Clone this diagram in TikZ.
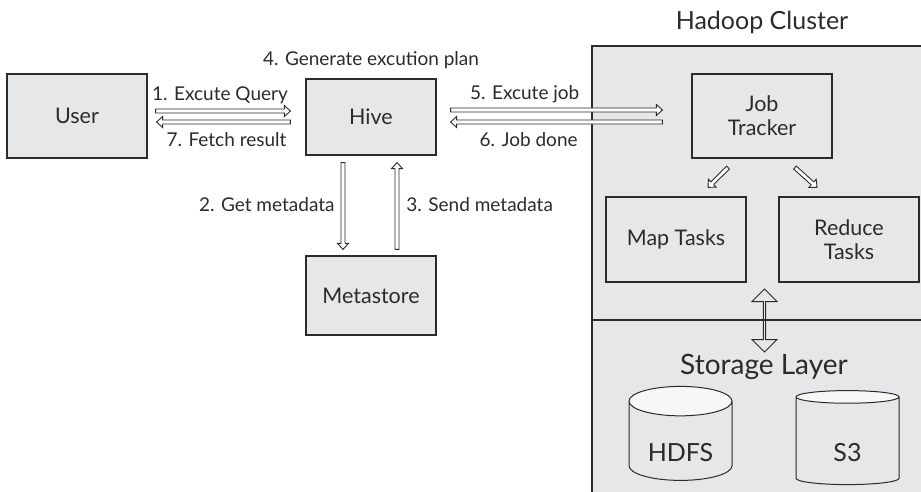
\documentclass[tikz,border=0pt]{standalone}
\usepackage{fontspec}
\setmainfont{Lato}
\usepackage{xcolor}
\usepackage{tikz}
\usetikzlibrary{arrows.meta, positioning, calc, shapes.geometric, shapes.arrows}

\definecolor{boxgray}{HTML}{E6E7E8}
\definecolor{inkgray}{HTML}{2B2B2B}

\begin{document}
\begin{tikzpicture}[
    x=1pt, y=-1pt, text=inkgray,
    box/.style={draw=inkgray, fill=boxgray, line width=1.2pt, minimum width=140pt,
        minimum height=84pt, inner sep=0pt, align=center, font=\fontsize{21.5}{24}\selectfont},
    flow/.style={draw=inkgray, fill=white, line width=0.9pt,
        to path={let \p1=(\tikztostart), \p2=(\tikztotarget), \p3=($(\p2)!6pt!(\p1)$) in
            ($(\p3)!2pt!90:(\p2)$) -- ($(\p3)!5.5pt!90:(\p2)$) -- (\p2)
            -- ($(\p3)!5.5pt!-90:(\p2)$) -- ($(\p3)!2pt!-90:(\p2)$)
            -- ($(\p1)!2pt!-90:(\p2)$) -- ($(\p1)!2pt!90:(\p2)$)
            -- ($(\p3)!2pt!90:(\p2)$) \tikztonodes}},
    msg/.style={font=\fontsize{19}{22}\selectfont, inner sep=1pt, fill=none, draw=none},
    title/.style={font=\fontsize{25}{29}\selectfont, inner sep=0pt},
    disk/.style={cylinder, shape border rotate=90, draw=inkgray, line width=1pt,
        cylinder uses custom fill, cylinder body fill=boxgray, cylinder end fill=boxgray!35,
        minimum width=103pt, minimum height=94pt, aspect=0.45, inner sep=0pt,
        text height=41pt, text depth=0pt, font=\fontsize{25}{29}\selectfont},
    bigarrow/.style={double arrow, rotate=90, draw=inkgray, line width=1pt, inner sep=0pt,
        minimum width=25pt, minimum height=63pt, double arrow head extend=5.5pt}
]
\useasboundingbox (0,0) rectangle (921,491);

% hadoop cluster area
\draw[draw=inkgray, fill=boxgray, line width=1.2pt] (592,46) rectangle (930,500);
\draw[draw=inkgray, line width=1.2pt] (592,320) -- (930,320);
\node[title] (cluster) at (762,22) {Hadoop Cluster};
\node[title, font=\fontsize{28}{32}\selectfont] (storage) at (764,367) {Storage Layer};

\node[box] (user) at (77,116) {User};
\node[box, minimum width=130pt, minimum height=76pt] (hive) at (371,117) {Hive};
\node[box, minimum width=130pt, minimum height=79pt] (meta) at (371,295.5) {Metastore};
\node[box] (jt) at (762,116) {Job\\Tracker};
\node[box, minimum height=85pt] (map) at (676,239.5) {Map Tasks};
\node[box, minimum height=85pt] (reduce) at (849,239.5) {Reduce\\Tasks};

\node[disk] (hdfs) at (680.5,441) {HDFS};
\node[disk] (s3) at (847.5,441) {S3};

\node[bigarrow] (sync) at (764.5,320.5) {};

\node[msg, above=8pt of hive] (plan) {4. Generate excution plan};

% query / result
\draw[flow] ([shift={(8pt,5pt)}]user.east) to node[msg, midway, above=4pt] {1. Excute Query}
    ([shift={(-15pt,6pt)}]hive.west);
\draw[flow] ([shift={(-15pt,-5pt)}]hive.west) to node[msg, midway, below=7pt] {7. Fetch result}
    ([shift={(9pt,-6pt)}]user.east);

% job
\draw[flow] ([shift={(14pt,7pt)}]hive.east) to node[msg, pos=0.36, above=4pt] {5. Excute job}
    ([shift={(-29pt,6pt)}]jt.west);
\draw[flow] ([shift={(-29pt,-6pt)}]jt.west) to node[msg, pos=0.65, below=7pt] {6. Job done}
    ([shift={(14pt,-5pt)}]hive.east);

% metadata
\draw[flow] ([shift={(-28pt,-7pt)}]hive.south) to node[msg, pos=0.52, left=9pt] {2. Get metadata}
    ([shift={(-28pt,6pt)}]meta.north);
\draw[flow] ([shift={(26pt,6pt)}]meta.north) to node[msg, pos=0.55, right=10pt] {3. Send metadata}
    ([shift={(26pt,-7pt)}]hive.south);

% tasks
\draw[flow] ([shift={(-34pt,-9pt)}]jt.south) to ([shift={(32pt,9pt)}]map.north);
\draw[flow] ([shift={(33pt,-9pt)}]jt.south) to ([shift={(-32pt,9pt)}]reduce.north);

\end{tikzpicture}
\end{document}
